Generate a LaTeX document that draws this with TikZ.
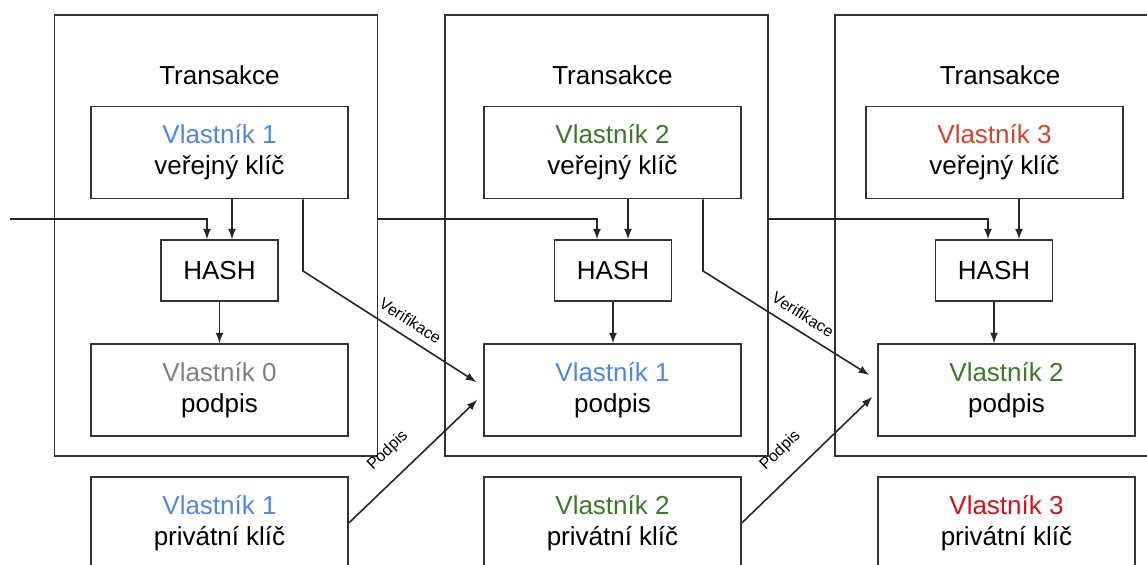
\documentclass[tikz,border=0pt]{standalone}
\usepackage{fontspec}
\setmainfont{Liberation Sans}
\usetikzlibrary{arrows,positioning}
\definecolor{ownblue}{RGB}{80,135,220}
\definecolor{owngreen}{RGB}{60,120,40}
\definecolor{ownred}{RGB}{204,70,45}
\definecolor{ownredb}{RGB}{205,20,30}
\definecolor{owngray}{RGB}{128,128,128}

\begin{document}
\begin{tikzpicture}[x=0.5pt,y=-0.5pt,
    tx/.style={draw=black!80,line width=0.8pt,minimum width=161.5pt,
      minimum height=220.5pt},
    keybox/.style={draw=black!80,line width=0.8pt,minimum width=128.5pt,
      minimum height=46pt,align=center,font=\fontsize{13}{15.5}\selectfont},
    hashbox/.style={draw=black!80,line width=0.8pt,minimum width=58.5pt,
      minimum height=30.5pt,font=\fontsize{13}{15.5}\selectfont},
    ttl/.style={font=\fontsize{13}{15.5}\selectfont},
    lbl/.style={font=\fontsize{8}{9}\selectfont,sloped,inner sep=0pt},
    arr/.style={draw=black!85,line width=0.8pt,-latex}]

    \clip (0,0) rectangle (1147,565);

    % the transactions
    \node[tx] (t1) at (216,235.5) {};
    \node[tx] (t2) at (606.5,235.5) {};
    \node[tx] (t3) at (996.5,235.5) {};

    \node[ttl] (tt1) at (219.5,75) {Transakce};
    \node[ttl] (tt2) at (612.5,75) {Transakce};
    \node[ttl] (tt3) at (1000,75) {Transakce};

    % the texts
    \node[keybox] (p1) at (219.5,152.5) {\textcolor{ownblue}{Vlastník 1}\\veřejný klíč};
    \node[keybox] (p2) at (612.5,152.5) {\textcolor{owngreen}{Vlastník 2}\\veřejný klíč};
    \node[keybox] (p3) at (994.5,152.5) {\textcolor{ownred}{Vlastník 3}\\veřejný klíč};

    \node[hashbox] (h1) at (219.5,270.5) {HASH};
    \node[hashbox] (h2) at (613,270.5) {HASH};
    \node[hashbox] (h3) at (994,270.5) {HASH};

    \node[keybox] (s1) at (219.5,390) {\textcolor{owngray}{Vlastník 0}\\podpis};
    \node[keybox] (s2) at (612.5,390) {\textcolor{ownblue}{Vlastník 1}\\podpis};
    \node[keybox] (s3) at (1006.5,390) {\textcolor{owngreen}{Vlastník 2}\\podpis};

    \node[keybox] (k1) at (219.5,523) {\textcolor{ownblue}{Vlastník 1}\\privátní klíč};
    \node[keybox] (k2) at (612.5,523) {\textcolor{owngreen}{Vlastník 2}\\privátní klíč};
    \node[keybox] (k3) at (1006.5,523) {\textcolor{ownredb}{Vlastník 3}\\privátní klíč};

    % helper points
    \coordinate (in) at (10,219);
    \coordinate (chain) at (0,219);
    \coordinate (bend) at (0,271);
    \coordinate (l1) at (207,0);  \coordinate (r1) at (232,0);  \coordinate (v1) at (303,0);
    \coordinate (l2) at (597,0);  \coordinate (r2) at (628,0);  \coordinate (v2) at (703,0);
    \coordinate (l3) at (988,0);  \coordinate (r3) at (1019,0);

    % hashing
    \draw[arr] (in) -| (h1.north -| l1);
    \draw[arr] (t1.east |- chain) -| (h2.north -| l2);
    \draw[arr] (t2.east |- chain) -| (h3.north -| l3);
    \draw[arr] (p1.south -| r1) -- (h1.north -| r1);
    \draw[arr] (p2.south -| r2) -- (h2.north -| r2);
    \draw[arr] (p3.south -| r3) -- (h3.north -| r3);
    \draw[arr] (h1) -- (s1);
    \draw[arr] (h2) -- (s2.north -| h2);
    \draw[arr] (h3) -- (s3.north -| h3);

    % verification and signing
    \draw[arr] (p1.south -| v1) -- (v1 |- bend) -- ([xshift=-3.5pt,yshift=4pt]s2.west)
      node[lbl,pos=0.57,above=4.75pt] {Verifikace};
    \draw[arr] (p2.south -| v2) -- (v2 |- bend) -- ([xshift=-4pt,yshift=7.5pt]s3.west)
      node[lbl,pos=0.55,above=4.75pt] {Verifikace};
    \draw[arr] (k1.east) -- ([xshift=-3pt,yshift=-5pt]s2.west)
      node[lbl,pos=0.44,above=8.5pt] {Podpis};
    \draw[arr] (k2.east) -- ([xshift=-2.5pt,yshift=-3.5pt]s3.west)
      node[lbl,pos=0.43,above=8.5pt] {Podpis};

  \end{tikzpicture}
\end{document}
